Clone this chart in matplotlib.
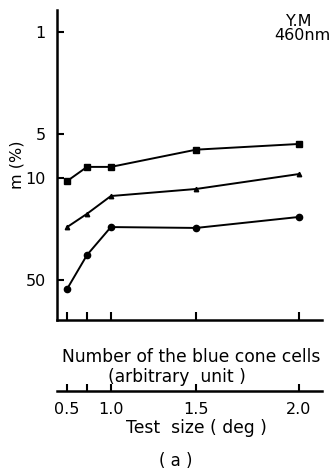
import matplotlib
matplotlib.use("Agg")
import matplotlib.pyplot as plt

# Positions along the "number of blue cone cells" axis (arbitrary unit)
cone_cells = [0.23, 0.68, 1.22, 3.15, 5.48]
test_size_labels = ["0.5", "", "1.0", "1.5", "2.0"]

m_square = [10.5, 8.4, 8.4, 6.4, 5.85]
m_triangle = [21.7, 17.6, 13.3, 11.9, 9.4]
m_circle = [57.5, 33.7, 21.7, 22.0, 18.5]

y_ticks = [1, 5, 10, 50]
y_ticklabels = ["1", "5", "10", "50"]

W, H = 332, 472
fig = plt.figure(figsize=(W / 100, H / 100), dpi=100)
fig.patch.set_facecolor("white")

ax = fig.add_axes([57 / W, 1 - 320 / H, (322 - 57) / W, (320 - 10) / H])
ax.set_yscale("log")
ax.set_xlim(0, 6.0)
ax.set_ylim(94, 0.707)

lw = 1.4
ax.plot(cone_cells, m_square, color="black", lw=lw, marker="s", ms=4.8)
ax.plot(cone_cells, m_triangle, color="black", lw=lw, marker="^", ms=3.2)
ax.plot(cone_cells, m_circle, color="black", lw=lw, marker="o", ms=4.5)

for s in ["top", "right"]:
    ax.spines[s].set_visible(False)
for s in ["left", "bottom"]:
    ax.spines[s].set_linewidth(1.8)

ax.set_yticks(y_ticks)
ax.set_yticklabels(y_ticklabels, fontsize=11.5)
ax.yaxis.set_minor_locator(matplotlib.ticker.NullLocator())
ax.tick_params(axis="y", direction="in", length=5, width=1.5, pad=8)
ax.set_xticks(cone_cells)
ax.set_xticklabels([])
ax.tick_params(axis="x", direction="in", length=6, width=1.5)
ax.set_ylabel("m (%)", fontsize=11.5, labelpad=1)

fig.text(299 / W, 1 - 21 / H, "Y.M", ha="center", va="center", fontsize=11.5)
fig.text(302 / W, 1 - 35 / H, "460nm", ha="center", va="center", fontsize=11.5)

# Secondary axis: test size
ax2 = fig.add_axes([57 / W, 1 - 391 / H, (322 - 57) / W, 0.001])
ax2.set_xlim(0, 6.0)
ax2.set_ylim(0, 1)
for s in ["top", "right", "left"]:
    ax2.spines[s].set_visible(False)
ax2.spines["bottom"].set_linewidth(1.8)
ax2.set_yticks([])
ax2.set_xticks(cone_cells)
ax2.set_xticklabels(test_size_labels, fontsize=11.5)
ax2.tick_params(axis="x", direction="in", length=5, width=1.5, pad=8)
ax2.patch.set_visible(False)

fig.text(191 / W, 1 - 357 / H, "Number of the blue cone cells", ha="center", va="center", fontsize=12.3)
fig.text(177 / W, 1 - 377 / H, "(arbitrary  unit )", ha="center", va="center", fontsize=12.3)
fig.text(196 / W, 1 - 428 / H, "Test  size ( deg )", ha="center", va="center", fontsize=12.3)
fig.text(176 / W, 1 - 461 / H, "( a )", ha="center", va="center", fontsize=12)

fig.savefig("out.png", dpi=100, facecolor="white")
